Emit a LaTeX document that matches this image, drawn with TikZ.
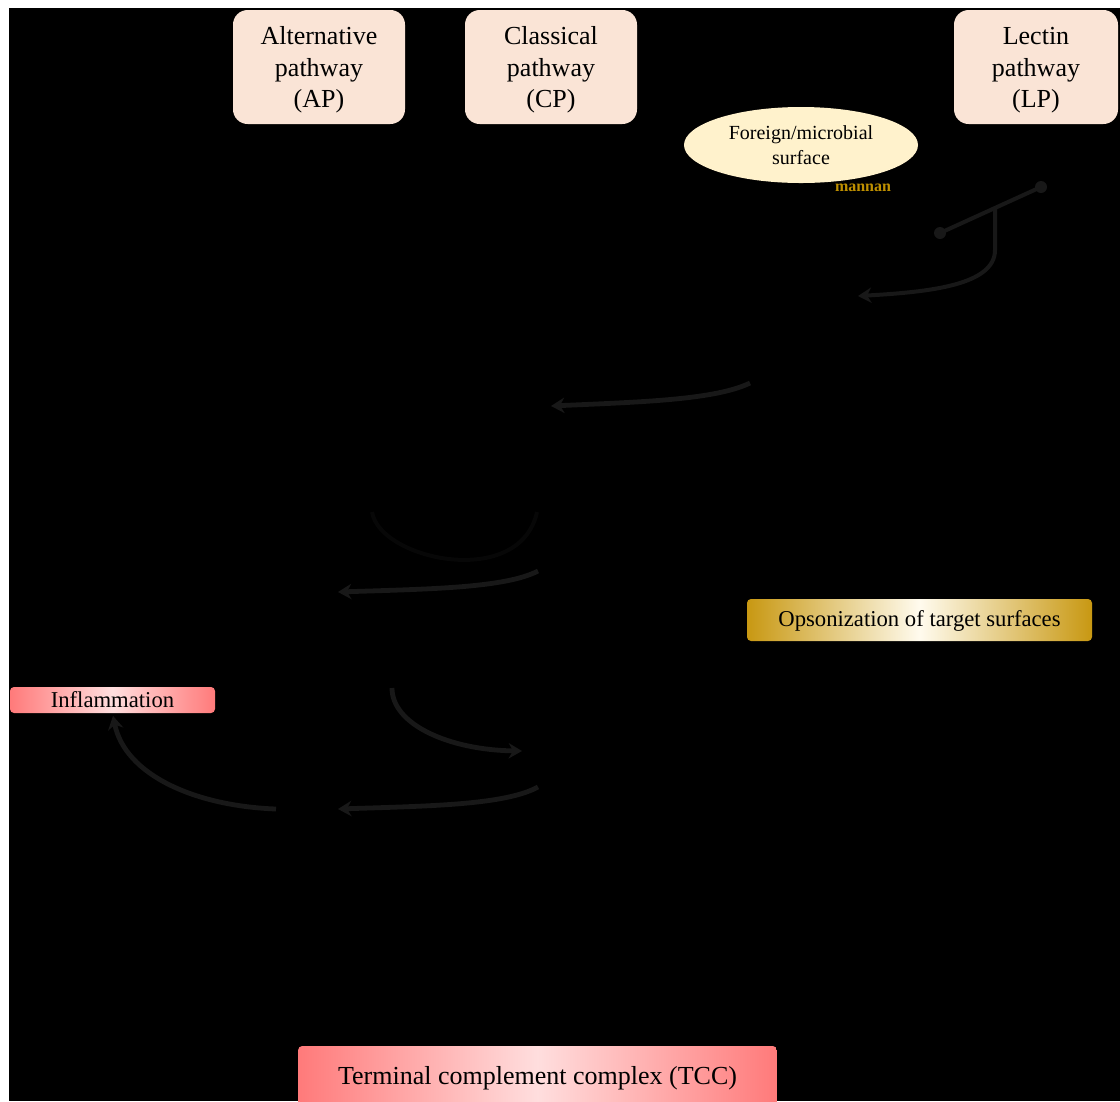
\documentclass[tikz,border=0pt]{standalone}
\usepackage{fontspec}
\setmainfont{Liberation Serif}
\usepackage{tikz}
\usetikzlibrary{shapes.geometric,arrows.meta,positioning,calc}
\definecolor{PathFill}{RGB}{250,228,214}
\definecolor{SurfFill}{RGB}{255,242,204}
\definecolor{MannanCol}{RGB}{191,144,0}
\definecolor{ArrowCol}{RGB}{24,24,24}
\definecolor{GhostCol}{RGB}{7,7,7}
\definecolor{GoldDk}{RGB}{200,152,18}
\definecolor{GoldLt}{RGB}{255,251,238}
\definecolor{RedDk}{RGB}{255,122,122}
\definecolor{RedLt}{RGB}{255,222,222}
\newcommand{\toppad}{\rule{0pt}{18pt}}
\tikzset{
  pathbox/.style={rounded corners=11pt,fill=PathFill,align=center,minimum width=129pt,minimum height=85.5pt,inner sep=0pt,font=\fontsize{19.5}{23.6}\selectfont},
  goldbox/.style={rounded corners=3pt,left color=GoldDk,right color=GoldDk,middle color=GoldLt,inner sep=0pt,font=\fontsize{17}{20}\selectfont},
  redbox/.style={rounded corners=3pt,left color=RedDk,right color=RedDk,middle color=RedLt,inner sep=0pt},
  flow/.style={ArrowCol,line width=3.6pt,-{Stealth[length=10pt,width=11.5pt]}},
}
\begin{document}
\begin{tikzpicture}[x=0.75pt,y=-0.75pt]
\clip(0,0)rectangle(1120,1101);
\fill[white](0,0)rectangle(1120,1101);
\fill[black](9,8)rectangle(1120,1101);

% Pathways
\node[pathbox](ap)at(319,67){\toppad Alternative\\pathway\\(AP)};
\node[pathbox](cp)at(551,67){\toppad Classical\\pathway\\(CP)};
\node[pathbox,minimum width=123pt](lp)at(1036,67){\toppad Lectin\\pathway\\(LP)};

% Surface and mannan
\node[ellipse,fill=SurfFill,minimum width=175.5pt,minimum height=57pt,inner sep=0pt,align=center,font=\fontsize{15}{18.75}\selectfont](surf)at(801,145){Foreign/microbial\\surface};
\node[font=\fontsize{12}{14}\selectfont\bfseries,MannanCol](mannan)at(863,188){mannan};

% Lectin binding
\coordinate(mbl1)at(940,233);
\coordinate(mbl2)at(1041,187);
\coordinate(mblm)at(995,208);
\coordinate(masp)at(858,296);
\draw[ArrowCol,line width=3pt](mbl1)--(mbl2);
\fill[ArrowCol](mbl1)circle(6)(mbl2)circle(6);
\draw[flow,line width=3pt](mblm)--(995,250)..controls(995,285)and(930,292)..(masp);

% Cascade arrows
\coordinate(c1s)at(750,383);  \coordinate(c1e)at(551,406);
\coordinate(c2s)at(538,571);  \coordinate(c2e)at(338,592);
\coordinate(c3s)at(392,688);  \coordinate(c3e)at(522,751);
\coordinate(c4s)at(538,787);  \coordinate(c4e)at(338,809);
\coordinate(c5s)at(276,809);
\draw[flow](c1s)..controls(715,400)and(640,402)..(c1e);
\draw[GhostCol,line width=3pt](372,512)..controls(380,560)and(520,590)..(537,512);
\draw[flow](c2s)..controls(505,588)and(430,589)..(c2e);
\draw[flow](c3s)..controls(392,725)and(450,750)..(c3e);
\draw[flow](c4s)..controls(505,805)and(430,806)..(c4e);

% Effects
\node[goldbox,minimum width=258.75pt,minimum height=31.5pt](opso)at(919.5,620){\rule{0pt}{14pt}Opsonization of target surfaces};
\node[redbox,minimum width=153.75pt,minimum height=19.5pt,font=\fontsize{17}{20}\selectfont](infl)at(112.5,700){Inflammation};
\node[redbox,minimum width=359pt,minimum height=48pt,font=\fontsize{19.5}{23.6}\selectfont](tcc)at(537.5,1078){Terminal complement complex (TCC)};
\draw[flow,shorten >=2pt](c5s)..controls(195,806)and(125,775)..(infl.south);
\end{tikzpicture}
\end{document}
